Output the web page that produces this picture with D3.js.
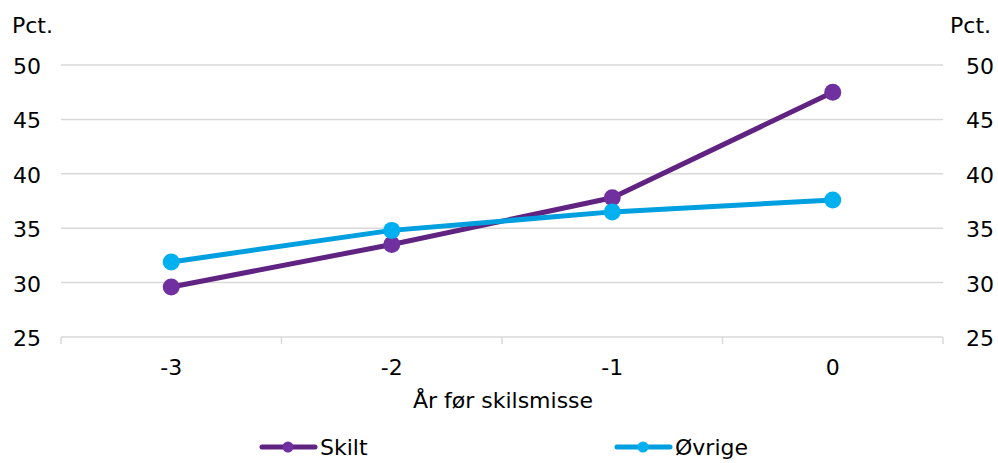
<!DOCTYPE html>
<html>
<head>
<meta charset="utf-8">
<script src="https://cdn.jsdelivr.net/npm/d3@7"></script>
<style>
  body { margin: 0; background: #fff; }
  text { font-family: "DejaVu Sans", Verdana, sans-serif; fill: #000; }
</style>
</head>
<body>
<div class="container"></div>
<script>
const w = 998;
const h = 463;
const margin = { top: 65, bottom: 126, left: 61, right: 55 };
const width = w - margin.left - margin.right;
const height = h - margin.top - margin.bottom;

// data
const years = ["-3", "-2", "-1", "0"];
const skilt = [29.6, 33.5, 37.8, 47.5];
const ovrige = [31.9, 34.8, 36.5, 37.6];
const yTicks = [25, 30, 35, 40, 45, 50];

const series = [
  { name: "Skilt", values: skilt, line: "#612381", dot: "#7030a0" },
  { name: "Øvrige", values: ovrige, line: "#009fdf", dot: "#00b0f0" }
];

const svg = d3.select('.container').append('svg')
  .attr('width', w)
  .attr('height', h);

const chart = svg.append('g')
  .attr('transform', `translate(${margin.left}, ${margin.top})`);

const x = d3.scalePoint()
  .domain(years)
  .range([0, width])
  .padding(0.5);

const xBand = d3.scaleBand()
  .domain(years)
  .range([0, width]);

const y = d3.scaleLinear()
  .domain([25, 50])
  .range([height, 0]);

// gridlines
chart.append('g')
  .selectAll('line')
  .data(yTicks.filter(d => d > 25))
  .enter().append('line')
    .attr('x1', 0)
    .attr('x2', width)
    .attr('y1', d => y(d))
    .attr('y2', d => y(d))
    .attr('stroke', '#d9d9d9')
    .attr('stroke-width', 1.5);

// x axis line + ticks between categories
const xAxis = chart.append('g')
  .attr('transform', `translate(0, ${height})`);
xAxis.append('line')
  .attr('x1', 0).attr('x2', width)
  .attr('stroke', '#d9d9d9').attr('stroke-width', 1.5);
xAxis.selectAll('line.tick')
  .data(years.map(d => xBand(d)).concat([width]))
  .enter().append('line')
    .attr('class', 'tick')
    .attr('x1', d => d).attr('x2', d => d)
    .attr('y1', 0).attr('y2', 7)
    .attr('stroke', '#d9d9d9').attr('stroke-width', 1.5);
xAxis.selectAll('text')
  .data(years)
  .enter().append('text')
    .attr('x', d => x(d))
    .attr('y', 38)
    .attr('text-anchor', 'middle')
    .style('font-size', '22px')
    .text(d => d);

chart.append('text')
  .attr('x', width / 2 + 1)
  .attr('y', height + 71)
  .attr('text-anchor', 'middle')
  .style('font-size', '22px')
  .text('År før skilsmisse');

// y labels both sides
const yl = chart.append('g');
yl.selectAll('text.l')
  .data(yTicks)
  .enter().append('text')
    .attr('class', 'l')
    .attr('x', -20)
    .attr('y', d => y(d) + 9)
    .attr('text-anchor', 'end')
    .style('font-size', '22px')
    .text(d => d);
yl.selectAll('text.r')
  .data(yTicks)
  .enter().append('text')
    .attr('class', 'r')
    .attr('x', width + 23)
    .attr('y', d => y(d) + 9)
    .attr('text-anchor', 'start')
    .style('font-size', '22px')
    .text(d => d);

svg.append('text')
  .attr('x', 12).attr('y', 33)
  .style('font-size', '22px')
  .text('Pct.');
svg.append('text')
  .attr('x', 991).attr('y', 33)
  .attr('text-anchor', 'end')
  .style('font-size', '22px')
  .text('Pct.');

// lines
const line = d3.line()
  .x((d, i) => x(years[i]))
  .y(d => y(d));

series.forEach(s => {
  chart.append('path')
    .datum(s.values)
    .attr('fill', 'none')
    .attr('stroke', s.line)
    .attr('stroke-width', 5)
    .attr('stroke-linejoin', 'round')
    .attr('d', line);
});
series.forEach(s => {
  chart.append('g')
    .selectAll('circle')
    .data(s.values)
    .enter().append('circle')
      .attr('cx', (d, i) => x(years[i]))
      .attr('cy', d => y(d))
      .attr('r', 8.5)
      .attr('fill', s.dot);
});

// legend
const legendX = [262, 617];
const legend = svg.append('g');
series.forEach((s, i) => {
  const g = legend.append('g')
    .attr('transform', `translate(${legendX[i]}, 447)`);
  g.append('line')
    .attr('x1', 0).attr('x2', 53)
    .attr('stroke', s.line)
    .attr('stroke-width', 5)
    .attr('stroke-linecap', 'round');
  g.append('circle')
    .attr('cx', 26).attr('r', 5.5)
    .attr('fill', s.dot);
  g.append('text')
    .attr('x', 58).attr('y', 8)
    .style('font-size', '22px')
    .text(s.name);
});
</script>
</body>
</html>
